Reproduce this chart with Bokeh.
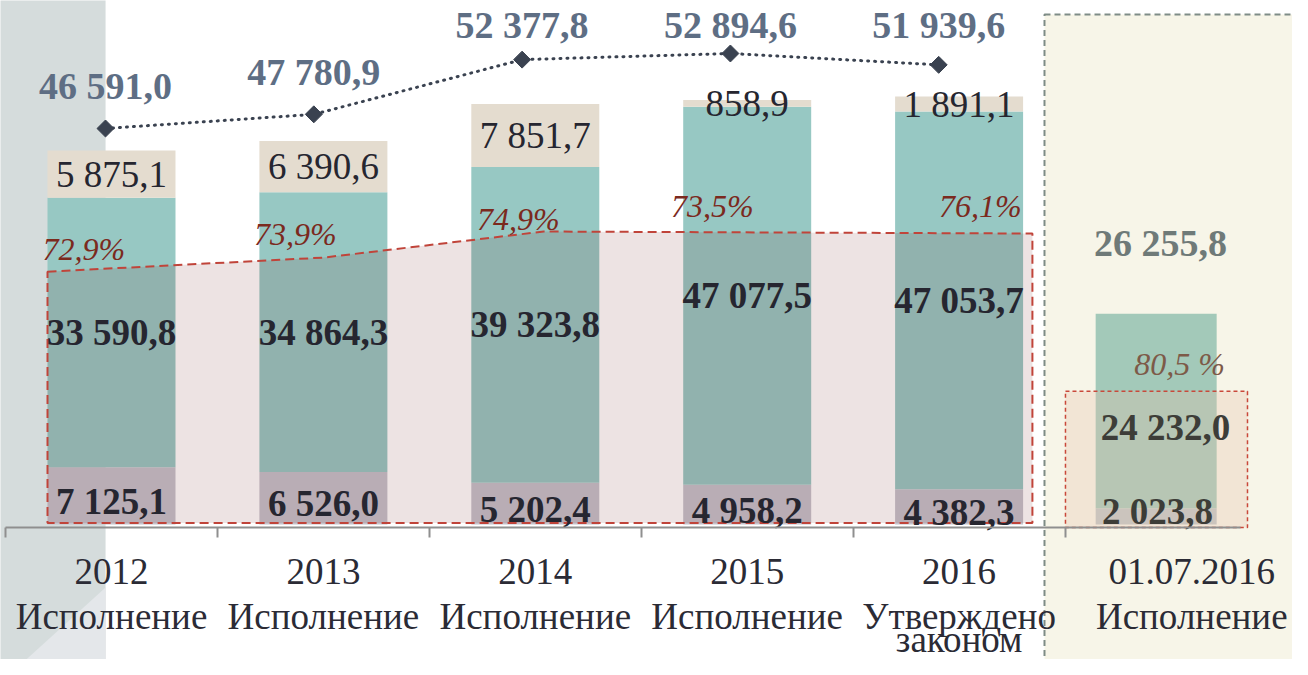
import numpy as np
from bokeh.plotting import figure
from bokeh.models import Range1d, FixedTicker, ColumnDataSource
from bokeh.core.properties import value
from bokeh.embed import file_html
from bokeh.resources import INLINE

# ---------------- data ----------------
categories = ["2012\nИсполнение", "2013\nИсполнение", "2014\nИсполнение",
              "2015\nИсполнение", "2016\nУтверждено", "01.07.2016\nИсполнение"]
category_extra_line = "законом"          # third line of the 2016 label
part_bottom = [7125.1, 6526.0, 5202.4, 4958.2, 4382.3, 2023.8]
part_middle = [33590.8, 34864.3, 39323.8, 47077.5, 47053.7, 24232.0]
part_top = [5875.1, 6390.6, 7851.7, 858.9, 1891.1, 0.0]
totals = [46591.0, 47780.9, 52377.8, 52894.6, 51939.6, 26255.8]
share_labels = ["72,9%", "73,9%", "74,9%", "73,5%", "76,1%", "80,5 %"]
band_top = [31500, 33250, 36500, 36250]   # highlighted share outline
band6_top = 16600


def fmt(v):
    return f"{v:,.1f}".replace(",", " ").replace(".", ",")


# ---------------- geometry ----------------
W, H = 1292, 659
PXX = 211.9          # px per category
X0 = 111             # px of category 0
PXY = 0.008027       # px per unit
Y0 = 524             # px of zero
x_rng = Range1d(-X0 / PXX, (W - X0) / PXX)
y_rng = Range1d(-(H - Y0) / PXY, Y0 / PXY)

LX0, LPX = 105, 208.3          # line scale (x)
LY_REF, LY_PX, LS = 46591.0, 128, 0.0119
lx_rng = Range1d(-LX0 / LPX, (W - LX0) / LPX)
ly_rng = Range1d(LY_REF - (H - LY_PX) / LS, LY_REF + LY_PX / LS)

AXIS_Y = -374
SERIF = value("Liberation Serif")

p = figure(width=W, height=H, x_range=x_rng, y_range=y_rng,
           output_backend="svg", toolbar_location=None, min_border=0,
           y_axis_location=None, outline_line_color=None,
           background_fill_color="white", border_fill_color="white")
p.extra_x_ranges = {"lx": lx_rng}
p.extra_y_ranges = {"ly": ly_rng}
p.grid.grid_line_color = None

n_main = 5
xs_main = np.arange(n_main, dtype=float)
x6 = 4.93
bar_x = list(xs_main) + [x6]
bar_w = [0.604] * n_main + [0.571]

# background decorations
p.quad(left=[4.403], right=[5.69], bottom=[y_rng.start - 1000], top=[63536],
       fill_color="#f7f5e8", line_color="#7e8c86", line_width=2, line_dash="6 4")
p.quad(left=[x_rng.start - 1], right=[-0.028], bottom=[y_rng.start - 1000], top=[y_rng.end + 1000],
       fill_color="#d5dcdc", line_color=None)
p.patch(x=[-0.028, -0.028, -0.444], y=[-7850, y_rng.start - 1000, y_rng.start - 1000],
        fill_color="#e4e7ea", line_color=None)

b = np.array(part_bottom)
m = np.array(part_middle)
t = np.array(part_top)

bottom_colors = ["#c4c2cb"] * n_main + ["#bfc6c6"]
middle_colors = ["#97c8c3"] * n_main + ["#a3c9b9"]

src = ColumnDataSource(dict(x=bar_x, w=bar_w, b=b, bm=b + m, bmt=b + m + t,
                            cb=bottom_colors, cm=middle_colors))
p.vbar(x="x", width="w", bottom=0, top="b", fill_color="cb", line_color=None, source=src)
p.vbar(x="x", width="w", bottom="b", top="bm", fill_color="cm", line_color=None, source=src)
p.vbar(x=bar_x[:n_main], width=0.604, bottom=(b + m)[:n_main], top=(b + m + t)[:n_main],
       fill_color="#e4dccf", line_color=None)

# highlighted share band
hw = 0.302
bx = [-hw, 1.0, 2.04, 4 + hw + 0.044, 4 + hw + 0.044, -hw]
by = band_top + [200, 200]
p.patch(x=bx, y=by, fill_color="#691616", fill_alpha=0.12,
        line_color="#c0443a", line_width=2, line_dash="9 5")
p.quad(left=[4.502], right=[5.361], bottom=[AXIS_Y], top=[band6_top],
       fill_color="#e9c0a9", fill_alpha=0.3, line_color="#c9483a", line_width=1.5, line_dash="4 3")

# total line (own scale)
tot = np.array(totals[:n_main])
p.line(x=xs_main, y=tot, x_range_name="lx", y_range_name="ly",
       line_color="#3a4250", line_width=3, line_dash="1 6", line_cap="round")
p.scatter(x=xs_main, y=tot, x_range_name="lx", y_range_name="ly", marker="square",
          angle=np.pi / 4, size=12, fill_color="#3a4250", line_color="#3a4250")
lab_y = np.minimum(tot + 3530, 55330)
p.text(x=xs_main, y=lab_y, text=[fmt(v) for v in tot], x_range_name="lx", y_range_name="ly",
       text_font=SERIF, text_font_style="bold", text_font_size="38px", text_color="#5e6e84",
       text_align="center", text_baseline="middle")

# segment labels
p.text(x=xs_main, y=(b + m + t / 2)[:n_main], text=[fmt(v) for v in part_top[:n_main]],
       text_font=SERIF, text_font_size="37px", text_color="#262630",
       text_align="center", text_baseline="middle")
p.text(x=xs_main, y=(b + m / 2)[:n_main], text=[fmt(v) for v in part_middle[:n_main]],
       text_font=SERIF, text_font_style="bold", text_font_size="37px", text_color="#262630",
       text_align="center", text_baseline="middle")
p.text(x=xs_main, y=(b / 2)[:n_main] - 700, text=[fmt(v) for v in part_bottom[:n_main]],
       text_font=SERIF, text_font_style="bold", text_font_size="37px", text_color="#262630",
       text_align="center", text_baseline="middle")

# sixth (interim) column labels
p.text(x=[4.974, 4.936], y=[12084, 1620], text=[fmt(part_middle[5]), fmt(part_bottom[5])],
       text_font=SERIF, text_font_style="bold", text_font_size="37px", text_color="#3d3d38",
       text_align="center", text_baseline="middle")
p.text(x=[4.95], y=[35131], text=[fmt(totals[5])],
       text_font=SERIF, text_font_style="bold", text_font_size="38px", text_color="#6f7a78",
       text_align="center", text_baseline="middle")

# share labels
pct_x = [-0.13, 0.868, 1.92, 2.836, 4.10]
pct_y = [34260, 36250, 38000, 39740, 39740]
p.text(x=pct_x, y=pct_y, text=share_labels[:n_main],
       text_font=SERIF, text_font_style="italic", text_font_size="32px", text_color="#7b2a1e",
       text_align="center", text_baseline="middle")
p.text(x=[5.04], y=[20057], text=[share_labels[5]],
       text_font=SERIF, text_font_style="italic", text_font_size="32px", text_color="#7d5a48",
       text_align="center", text_baseline="middle")

# x axis
ax = p.xaxis[0]
ax.fixed_location = AXIS_Y
tick_pos = [0, 1, 2, 3, 4, 5.098]
ax.ticker = FixedTicker(ticks=tick_pos, minor_ticks=[-0.5, 0.5, 1.5, 2.5, 3.5, 4.5])
ax.major_label_overrides = {tp: c for tp, c in zip(tick_pos, categories)}
ax.bounds = (-0.5, 5.33)
ax.axis_line_color = "#8f8f8f"
ax.axis_line_width = 2
ax.major_tick_line_color = None
ax.major_tick_out = 0
ax.major_tick_in = 0
ax.minor_tick_line_color = "#8f8f8f"
ax.minor_tick_line_width = 2
ax.minor_tick_out = 10
ax.minor_tick_in = 0
ax.major_label_standoff = 13
ax.major_label_text_font = "Liberation Serif"
ax.major_label_text_font_size = "37px"
ax.major_label_text_line_height = 1.1
ax.major_label_text_color = "#2b2b35"

# third line of the 2016 category label (kept inside the canvas)
p.text(x=[4], y=[-14300], text=[category_extra_line],
       text_font=SERIF, text_font_size="37px", text_color="#2b2b35",
       text_align="center", text_baseline="alphabetic")

open("out.html", "w").write(file_html(p, INLINE))
